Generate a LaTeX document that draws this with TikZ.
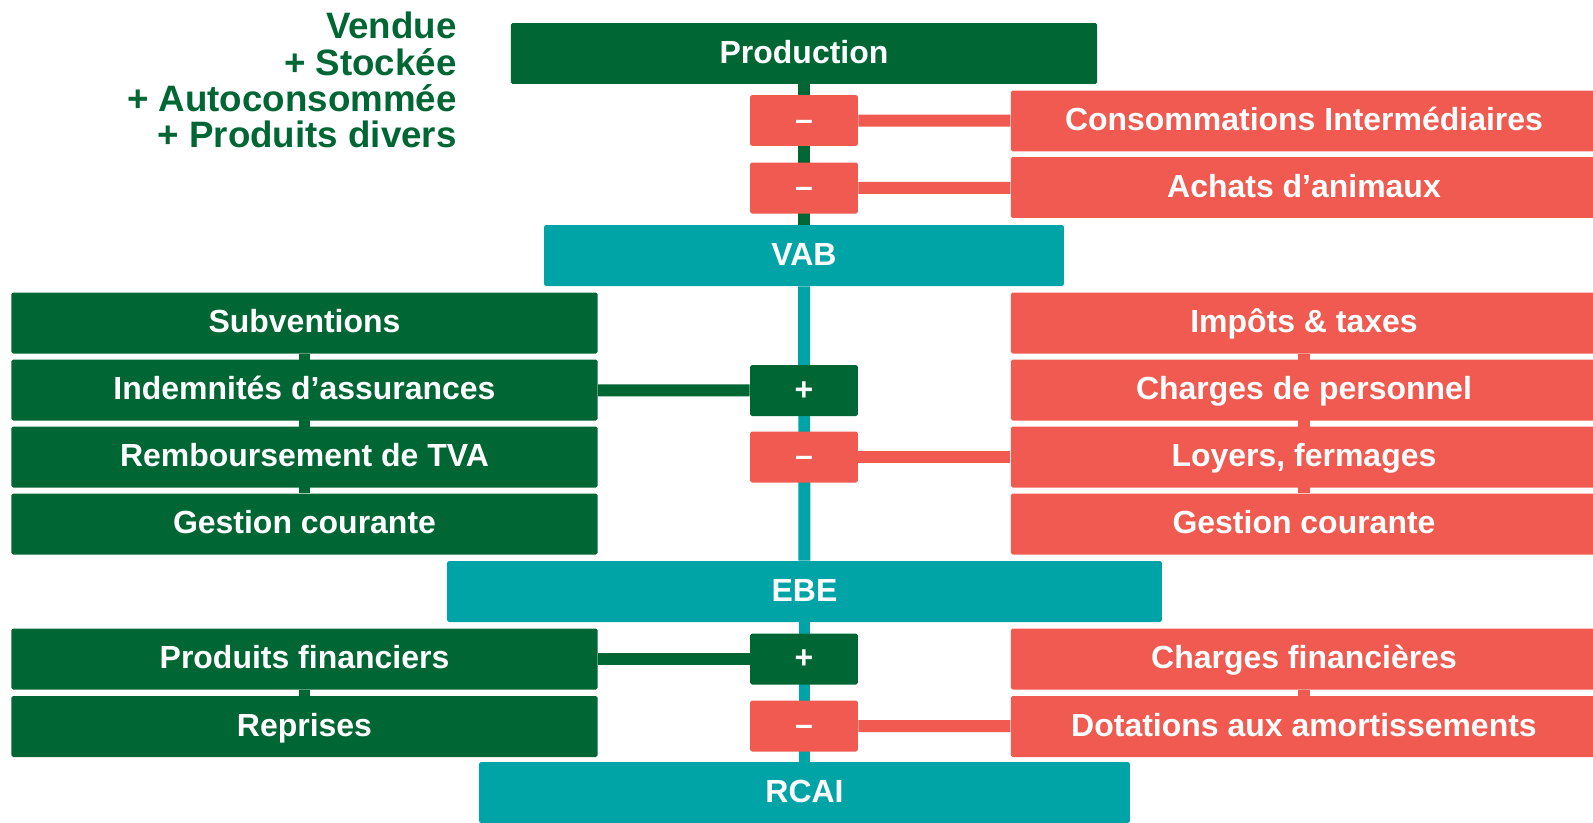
\documentclass[tikz,border=0pt]{standalone}
\usepackage{fontspec}
\setmainfont{Liberation Sans}
\usetikzlibrary{positioning,backgrounds}
\definecolor{vert}{RGB}{0,102,51}
\definecolor{corail}{RGB}{240,90,80}
\definecolor{turq}{RGB}{0,164,167}
\tikzstyle{boite} = [rectangle, rounded corners=1pt, inner sep=0pt, text=white, font=\fontsize{18.2}{20}\selectfont\bfseries, text height=14.6pt, text depth=3.3pt, minimum height=1.22cm]
\tikzstyle{bloc} = [boite, minimum width=11.73cm]
\tikzstyle{signe} = [boite, minimum width=2.16cm, minimum height=1.02cm]
\tikzstyle{lien} = [line width=6.8pt]

\begin{document}
\begin{tikzpicture}[x=0.02cm, y=-0.02cm]
                    \useasboundingbox (0,0) rectangle (1593,822);
                    \node[anchor=north east, align=right, inner sep=0pt, text=vert, font=\fontsize{20.9}{20.6}\selectfont\bfseries] (detail) at (457,12) {Vendue\\+ Stockée\\+ Autoconsommée\\+ Produits divers};

                    \node[bloc, fill=vert] (production) at (804,53.5) {Production};
                    \node[signe, fill=corail] (moinsci) at (804,120.5) {–};
                    \node[signe, fill=corail] (moinsachats) at (804,188) {–};
                    \node[bloc, fill=corail] (ci) at (1304,121) {Consommations Intermédiaires};
                    \node[bloc, fill=corail] (achats) at (1304,187.5) {Achats d’animaux};
                    \node[boite, fill=turq, minimum width=10.4cm] (vab) at (804,255.5) {VAB};

                    \node[bloc, fill=vert] (subventions) at (304.5,323) {Subventions};
                    \node[bloc, fill=vert] (indemnites) at (304.5,390) {Indemnités d’assurances};
                    \node[bloc, fill=vert] (tva) at (304.5,457) {Remboursement de TVA};
                    \node[bloc, fill=vert] (gestiong) at (304.5,524) {Gestion courante};
                    \node[bloc, fill=corail] (impots) at (1304,323) {Impôts \& taxes};
                    \node[bloc, fill=corail] (personnel) at (1304,390) {Charges de personnel};
                    \node[bloc, fill=corail] (loyers) at (1304,457) {Loyers, fermages};
                    \node[bloc, fill=corail] (gestiond) at (1304,524) {Gestion courante};
                    \node[signe, fill=vert] (plusgestion) at (804,390.5) {+};
                    \node[signe, fill=corail] (moinsgestion) at (804,457) {–};
                    \node[boite, fill=turq, minimum width=14.3cm] (ebe) at (804.5,591.5) {EBE};

                    \node[bloc, fill=vert] (prodfin) at (304.5,659) {Produits financiers};
                    \node[bloc, fill=vert] (reprises) at (304.5,726.5) {Reprises};
                    \node[bloc, fill=corail] (chfin) at (1304,659) {Charges financières};
                    \node[bloc, fill=corail] (dotations) at (1304,726.5) {Dotations aux amortissements};
                    \node[signe, fill=vert] (plusfin) at (804,659) {+};
                    \node[signe, fill=corail] (moinsfin) at (804,726) {–};
                    \node[boite, fill=turq, minimum width=13.02cm] (rcai) at (804.5,792.5) {RCAI};

                    \begin{pgfonlayer}{background}
                    \draw[lien, vert] (production) -- (vab);
                    \draw[lien, turq] (vab) -- (ebe);
                    \draw[lien, turq] (ebe) -- (rcai);
                    \draw[lien, corail] (moinsci) -- (ci);
                    \draw[lien, corail] (moinsachats) -- (achats);
                    \draw[lien, vert] (subventions) -- (gestiong);
                    \draw[lien, corail] (impots) -- (gestiond);
                    \draw[lien, vert] (indemnites) -- (plusgestion);
                    \draw[lien, corail] (moinsgestion) -- (loyers);
                    \draw[lien, vert] (prodfin) -- (reprises);
                    \draw[lien, corail] (chfin) -- (dotations);
                    \draw[lien, vert] (prodfin) -- (plusfin);
                    \draw[lien, corail] (moinsfin) -- (dotations);
                    \end{pgfonlayer}
                \end{tikzpicture}
\end{document}
